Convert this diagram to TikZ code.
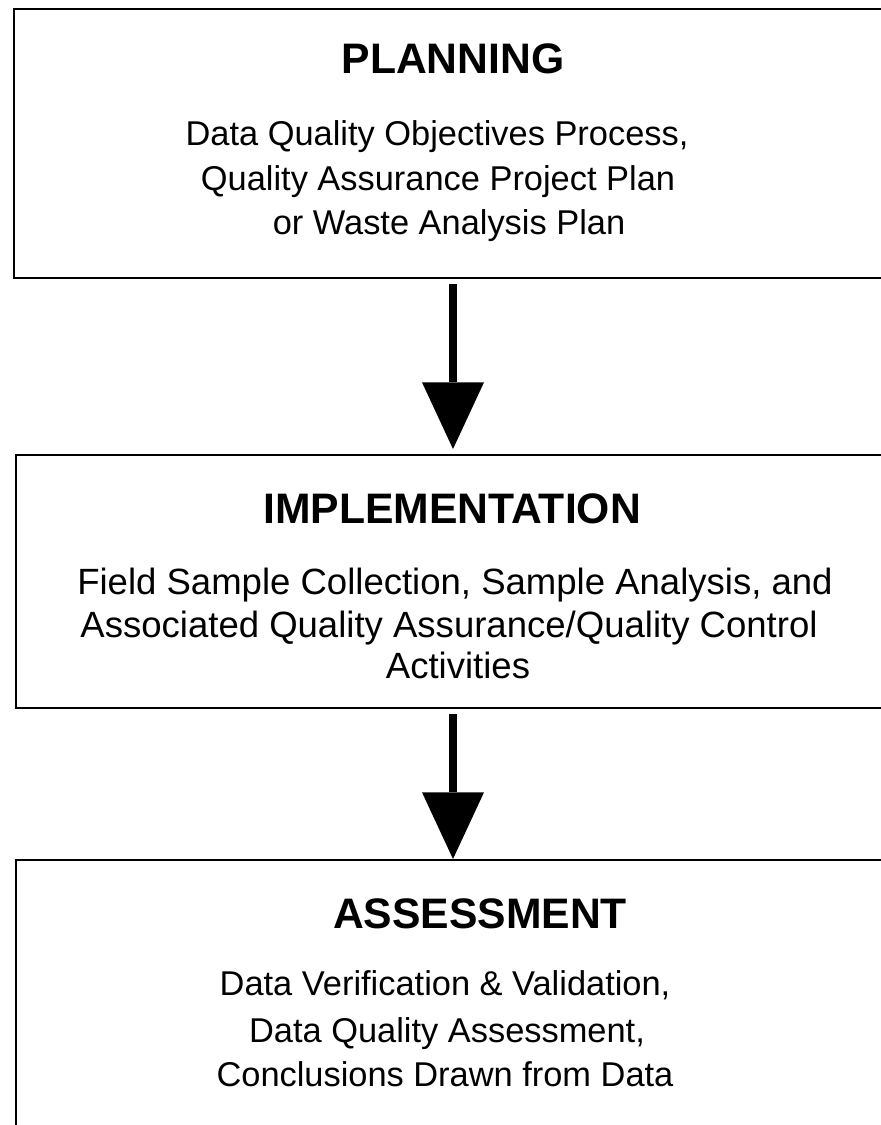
\documentclass[tikz,border=0pt]{standalone}
\usepackage{fontspec}
\setmainfont{Liberation Sans}
\usetikzlibrary{arrows.meta}

\tikzset{
	stage/.style={draw, line width=1.5pt, inner sep=0pt},
	headline/.style={anchor=base, font=\fontsize{32}{38}\selectfont\bfseries},
	bodyline/.style={anchor=base, font=\fontsize{25.8}{33}\selectfont},
	widebodyline/.style={anchor=base, font=\fontsize{27.4}{33}\selectfont},
	flow/.style={line width=6pt, -{Triangle[width=46.5pt, length=50pt, line width=0pt]}}
}

\begin{document}
\begin{tikzpicture}[x=0.75pt, y=-0.75pt]
	\useasboundingbox (0,0) rectangle (881,1125);
	\clip (0,0) rectangle (881,1125);

	%boxes
	\node (plan) [stage, minimum width=664.5pt, minimum height=201.75pt] at (457,143.5) {};
	\node (impl) [stage, minimum width=663pt, minimum height=189.75pt] at (458,581.5) {};
	\node (assess) [stage, minimum width=663pt, minimum height=217.5pt] at (458,1005) {};

	%planning
	\node (plantitle) [headline] at (453,73.5) {PLANNING};
	\node (plantext a) [bodyline] at (437,145) {Data Quality Objectives Process,};
	\node (plantext b) [bodyline] at (438,190) {Quality Assurance Project Plan};
	\node (plantext c) [bodyline] at (449,234) {or Waste Analysis Plan};

	%implementation
	\node (impltitle) [headline] at (452,523) {IMPLEMENTATION};
	\node (impltext a) [widebodyline] at (455,594) {Field Sample Collection, Sample Analysis, and};
	\node (impltext b) [widebodyline] at (449,637) {Associated Quality Assurance/Quality Control};
	\node (impltext c) [widebodyline] at (458,678) {Activities};

	%assessment
	\node (assesstitle) [headline] at (480,928) {ASSESSMENT};
	\node (assesstext a) [bodyline] at (445,995) {Data Verification \& Validation,};
	\node (assesstext b) [bodyline] at (447,1042) {Data Quality Assessment,};
	\node (assesstext c) [bodyline] at (445,1086) {Conclusions Drawn from Data};

	%arrows
	\draw[flow, shorten <=3.75pt, shorten >=3.75pt] (plan.south -| plantitle) -- (impl.north -| plantitle);
	\draw[flow, shorten <=3.75pt] (impl.south -| plantitle) -- (assess.north -| plantitle);
\end{tikzpicture}
\end{document}
